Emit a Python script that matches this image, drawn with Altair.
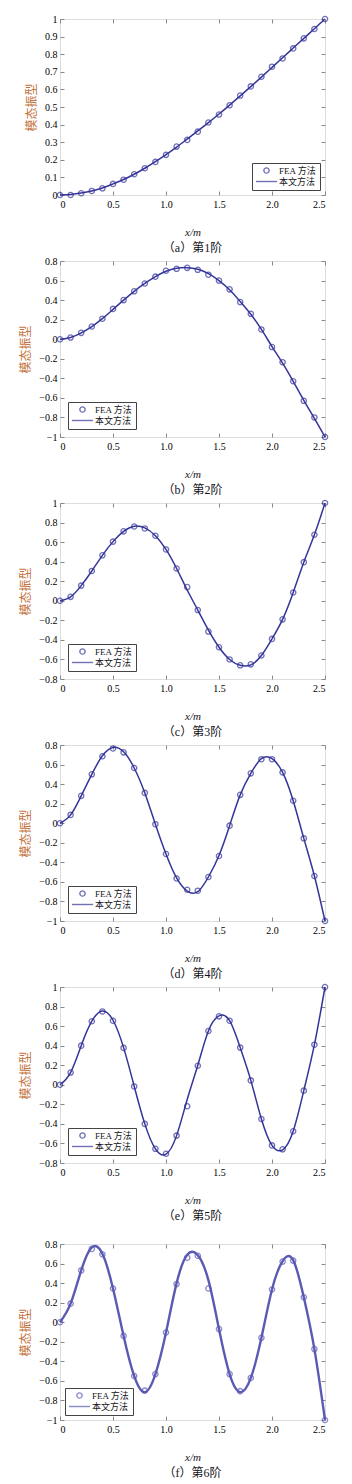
import altair as alt
import pandas as pd

x_vals = [0.0, 0.1, 0.2, 0.3, 0.4, 0.5, 0.6, 0.7, 0.8, 0.9, 1.0, 1.1, 1.2,
          1.3, 1.4, 1.5, 1.6, 1.7, 1.8, 1.9, 2.0, 2.1, 2.2, 2.3, 2.4, 2.5]

fea_1 = [0.0, 0.0, 0.01, 0.023, 0.038, 0.063, 0.087, 0.118, 0.152, 0.188, 0.228, 0.275, 0.313,
         0.36, 0.412, 0.457, 0.51, 0.565, 0.617, 0.672, 0.729, 0.776, 0.833, 0.89, 0.943, 1.0]
curve_1 = [0.0, 0.003, 0.011, 0.023, 0.04, 0.063, 0.088, 0.118, 0.152, 0.189, 0.229, 0.272, 0.318,
           0.364, 0.411, 0.46, 0.511, 0.563, 0.616, 0.67, 0.725, 0.78, 0.835, 0.89, 0.945, 1.0]

fea_2 = [0.0, 0.017, 0.065, 0.13, 0.21, 0.31, 0.40, 0.49, 0.57, 0.64, 0.70, 0.72, 0.73,
         0.71, 0.66, 0.60, 0.51, 0.38, 0.26, 0.10, -0.08, -0.235, -0.43, -0.63, -0.80, -1.0]
curve_2 = [0.0, 0.017, 0.065, 0.13, 0.21, 0.305, 0.40, 0.49, 0.57, 0.64, 0.695, 0.725, 0.732,
           0.715, 0.67, 0.60, 0.505, 0.385, 0.255, 0.10, -0.075, -0.245, -0.43, -0.625, -0.81, -1.0]

fea_3 = [0.0, 0.04, 0.155, 0.305, 0.465, 0.605, 0.71, 0.76, 0.74, 0.665, 0.525, 0.33, 0.14,
         -0.095, -0.315, -0.475, -0.60, -0.66, -0.65, -0.56, -0.39, -0.19, 0.085, 0.395, 0.675, 1.0]
curve_3 = [0.0, 0.04, 0.155, 0.305, 0.465, 0.605, 0.71, 0.762, 0.745, 0.665, 0.525, 0.33, 0.11,
           -0.095, -0.30, -0.475, -0.60, -0.66, -0.655, -0.56, -0.39, -0.19, 0.085, 0.395, 0.675, 1.0]

fea_4 = [0.0, 0.085, 0.28, 0.50, 0.685, 0.765, 0.725, 0.565, 0.31, -0.01, -0.315, -0.565, -0.68,
         -0.69, -0.55, -0.335, -0.025, 0.29, 0.51, 0.655, 0.655, 0.52, 0.23, -0.155, -0.54, -1.0]
curve_4 = [0.0, 0.085, 0.28, 0.50, 0.69, 0.775, 0.73, 0.565, 0.31, -0.01, -0.315, -0.56, -0.695,
           -0.70, -0.55, -0.33, -0.025, 0.29, 0.51, 0.66, 0.66, 0.52, 0.23, -0.155, -0.54, -1.0]

fea_5 = [0.0, 0.125, 0.40, 0.65, 0.75, 0.655, 0.377, -0.017, -0.40, -0.655, -0.705, -0.52, -0.22,
         0.195, 0.55, 0.70, 0.655, 0.38, 0.045, -0.35, -0.62, -0.66, -0.475, -0.06, 0.41, 1.0]
curve_5 = [0.0, 0.125, 0.40, 0.65, 0.755, 0.66, 0.38, -0.015, -0.40, -0.655, -0.71, -0.52, -0.15,
           0.20, 0.55, 0.705, 0.655, 0.38, 0.045, -0.35, -0.62, -0.665, -0.475, -0.06, 0.41, 1.0]

fea_6 = [0.0, 0.19, 0.53, 0.75, 0.695, 0.345, -0.14, -0.55, -0.70, -0.53, -0.105, 0.39, 0.66,
         0.68, 0.345, -0.07, -0.53, -0.705, -0.57, -0.16, 0.335, 0.62, 0.63, 0.255, -0.275, -1.0]
curve_6 = [0.0, 0.19, 0.53, 0.765, 0.70, 0.345, -0.14, -0.55, -0.715, -0.53, -0.105, 0.40, 0.69,
           0.685, 0.43, -0.07, -0.53, -0.715, -0.57, -0.16, 0.335, 0.625, 0.635, 0.255, -0.275, -1.0]

x_ticks = [0, 0.5, 1.0, 1.5, 2.0, 2.5]
y_ticks_a = [0, 0.1, 0.2, 0.3, 0.4, 0.5, 0.6, 0.7, 0.8, 0.9, 1.0]
y_ticks_neg = [-1.0, -0.8, -0.6, -0.4, -0.2, 0, 0.2, 0.4, 0.6, 0.8]
y_ticks_pos = [-0.8, -0.6, -0.4, -0.2, 0, 0.2, 0.4, 0.6, 0.8, 1.0]

captions = ["（a）第1阶", "（b）第2阶", "（c）第3阶", "（d）第4阶", "（e）第5阶", "（f）第6阶"]
series_names = ["FEA 方法", "本文方法"]

NUMF = "Liberation Serif"
SERIF = "Liberation Serif, Noto Sans CJK SC"
NAVY = "#34349a"
NAVY_F = "#5a5ab4"
TXT = "#141420"


def panel(idx, fea, curve, ydom, yticks, caption, lorient, loffset, color, lw):
    sfield = f"s{idx}"
    df_line = pd.DataFrame({"x": x_vals, "y": curve})
    df_pts = pd.DataFrame({"x": x_vals, "y": fea, sfield: series_names[0]})
    xs = alt.Scale(domain=[0, 2.5], nice=False, zero=False)
    ys = alt.Scale(domain=ydom, nice=False, zero=False)
    line = alt.Chart(df_line).mark_line(
        color=color, strokeWidth=lw, interpolate="natural"
    ).encode(
        x=alt.X("x:Q", scale=xs, axis=alt.Axis(
            orient="bottom", values=x_ticks, offset=-4, tickSize=4, grid=False, domain=False,
            labelExpr="datum.value == 0 ? '0' : format(datum.value, '.1f')",
            labelFont=NUMF,
            title="x/m", titleFont=NUMF, titleFontStyle="italic", titleFontSize=11,
            titleFontWeight="normal", titleColor=TXT, titlePadding=17, labelPadding=4)),
        y=alt.Y("y:Q", scale=ys, axis=alt.Axis(
            orient="left", values=yticks, offset=-4, tickSize=4, grid=False, domain=False,
            labelExpr="format(datum.value, '~g')", labelPadding=3, labelFont=NUMF,
            title="模态振型", titleFont="Noto Sans CJK SC", titleFontSize=12,
            titleFontWeight="normal", titleColor="#c4753f", titlePadding=6)),
    )
    pts = alt.Chart(df_pts).mark_point(
        filled=False, color=color, strokeWidth=1.3, size=28
    ).encode(
        x=alt.X("x:Q", scale=xs, axis=alt.Axis(
            orient="top", values=x_ticks, offset=-4, tickSize=4, labels=False, title=None,
            grid=False, domain=False)),
        y=alt.Y("y:Q", scale=ys, axis=alt.Axis(
            orient="right", values=yticks, offset=-4, tickSize=4, labels=False, title=None,
            grid=False, domain=False)),
        shape=alt.Shape(f"{sfield}:N", scale=alt.Scale(domain=series_names,
                                                      range=["circle", "M-4,0L4,0"]),
                        legend=alt.Legend(
                            title=None, orient=lorient, offset=loffset,
                            strokeColor="#444", fillColor="white", padding=3,
                            labelFont=SERIF, labelFontSize=9, labelColor=TXT,
                            symbolSize=28, symbolStrokeWidth=1.4, symbolStrokeColor=color,
                            symbolFillColor="transparent", symbolOffset=7, labelOffset=8,
                            rowPadding=1, cornerRadius=0)),
    )
    return alt.layer(line, pts).resolve_axis(x="independent", y="independent").properties(
        width=265, height=176,
        title=alt.TitleParams(caption, orient="bottom", frame="group", anchor="middle",
                              font=SERIF, fontSize=12, fontWeight="normal", color=TXT, offset=6),
    )


pa = panel(1, fea_1, curve_1, [0, 1], y_ticks_a, captions[0], "bottom-right", 5, NAVY, 1.5)
pb = panel(2, fea_2, curve_2, [-1, 0.8], y_ticks_neg, captions[1], "bottom-left", 8, NAVY, 1.5)
pc = panel(3, fea_3, curve_3, [-0.8, 1], y_ticks_pos, captions[2], "bottom-left", 8, NAVY, 1.5)
pd_ = panel(4, fea_4, curve_4, [-1, 0.8], y_ticks_neg, captions[3], "bottom-left", 8, NAVY, 1.5)
pe = panel(5, fea_5, curve_5, [-0.8, 1], y_ticks_pos, captions[4], "bottom-left", 8, NAVY, 1.5)
pf = panel(6, fea_6, curve_6, [-1, 0.8], y_ticks_neg, captions[5], "bottom-left", 5, NAVY_F, 2.4)

upper = alt.vconcat(pa, pb, pc, pd_, pe, spacing=0).resolve_scale(
    shape="independent").resolve_legend(shape="independent")
chart = alt.vconcat(upper, pf, spacing=15).resolve_scale(
    shape="independent").resolve_legend(shape="independent").properties(
    padding={"left": 19, "top": 13, "right": 5, "bottom": 5}
).configure_view(stroke="#000", strokeWidth=1).configure_axis(
    labelFont=NUMF, labelFontSize=12, labelColor=TXT, tickColor="#000", tickWidth=1,
    domain=False, grid=False
).configure(background="white")

chart.save("out.html", embed_options={"renderer": "svg", "actions": False})
